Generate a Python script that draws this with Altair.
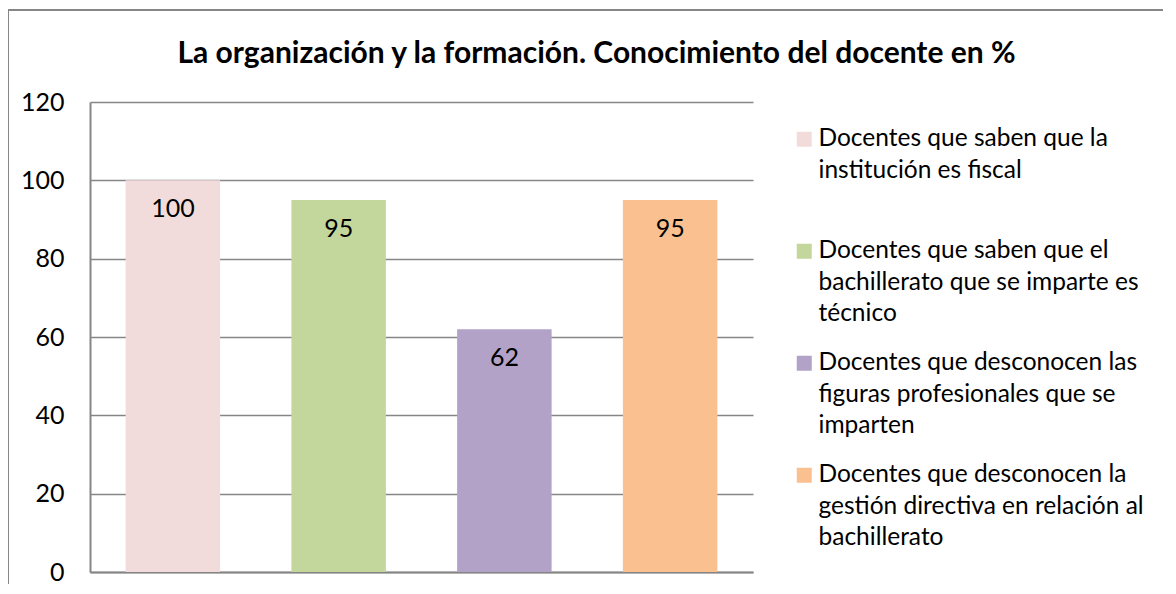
import altair as alt
import pandas as pd

# ---- data ----
categories = [
    "Docentes que saben que la|institución es fiscal| ",
    "Docentes que saben que el|bachillerato que se imparte es|técnico",
    "Docentes que desconocen las|figuras profesionales que se|imparten",
    "Docentes que desconocen la|gestión directiva en relación al|bachillerato",
]
values = [100, 95, 62, 95]
colors = ["#F2DCDB", "#C3D69B", "#B3A2C7", "#FAC090"]
y_ticks = [0, 20, 40, 60, 80, 100, 120]
title_text = "La organización y la formación. Conocimiento del docente en %"

df = pd.DataFrame({"cat": categories, "val": values})
frame_df = pd.DataFrame({"k": [0]})

FONT = "Lato"
GRAY = "#868686"

base = alt.Chart(df).encode(
    x=alt.X(
        "cat:N",
        sort=categories,
        scale=alt.Scale(paddingInner=0.43, paddingOuter=0.215),
        axis=alt.Axis(labels=False, ticks=False, title=None, grid=False,
                      domainColor=GRAY, domainWidth=2),
    )
)

bars = base.mark_bar().encode(
    y=alt.Y(
        "val:Q",
        scale=alt.Scale(domain=[0, 120]),
        axis=alt.Axis(values=y_ticks, title=None, ticks=False, labelPadding=26,
                      labelFontSize=25, labelFont=FONT, labelColor="black",
                      domainColor=GRAY, domainWidth=2,
                      gridColor=GRAY, gridWidth=1.5),
    ),
    color=alt.Color(
        "cat:N",
        sort=categories,
        scale=alt.Scale(domain=categories, range=colors),
        legend=alt.Legend(
            title=None, orient="none", legendX=702, legendY=25,
            symbolType="square", symbolSize=225, symbolStrokeWidth=0,
            labelFont=FONT, labelFontSize=24.5, labelColor="black",
            labelOffset=2, labelLimit=600,
            labelExpr="split(datum.label, '|')",
            rowPadding=24, padding=0,
        ),
    ),
)

labels = base.mark_text(baseline="middle", dy=29, fontSize=25, font=FONT,
                        color="black").encode(y="val:Q", text="val:Q")

top_border = alt.Chart(frame_df).mark_rule(color=GRAY, strokeWidth=2).encode(
    x=alt.value(-83), x2=alt.value(1100), y=alt.value(-92))
left_border = alt.Chart(frame_df).mark_rule(color=GRAY, strokeWidth=2).encode(
    x=alt.value(-82), y=alt.value(-93), y2=alt.value(600))

chart = (
    alt.layer(top_border, left_border, bars, labels)
    .properties(
        width=663, height=470,
        autosize=alt.AutoSizeParams(type="none"),
        padding={"left": 82, "top": 94, "right": 410, "bottom": 12},
        title=alt.TitleParams(text=title_text, font=FONT, fontSize=30,
                              fontWeight="bold", color="black", anchor="middle",
                              dx=175, offset=-61),
    )
    .configure_view(stroke="transparent", strokeWidth=0)
    .configure(font=FONT, style={"guide-label": {"lineHeight": 31.5},
                                 "cell": {"stroke": "transparent", "strokeWidth": 0}})
)

chart.save("out.html", embed_options={"renderer": "svg", "actions": False})
